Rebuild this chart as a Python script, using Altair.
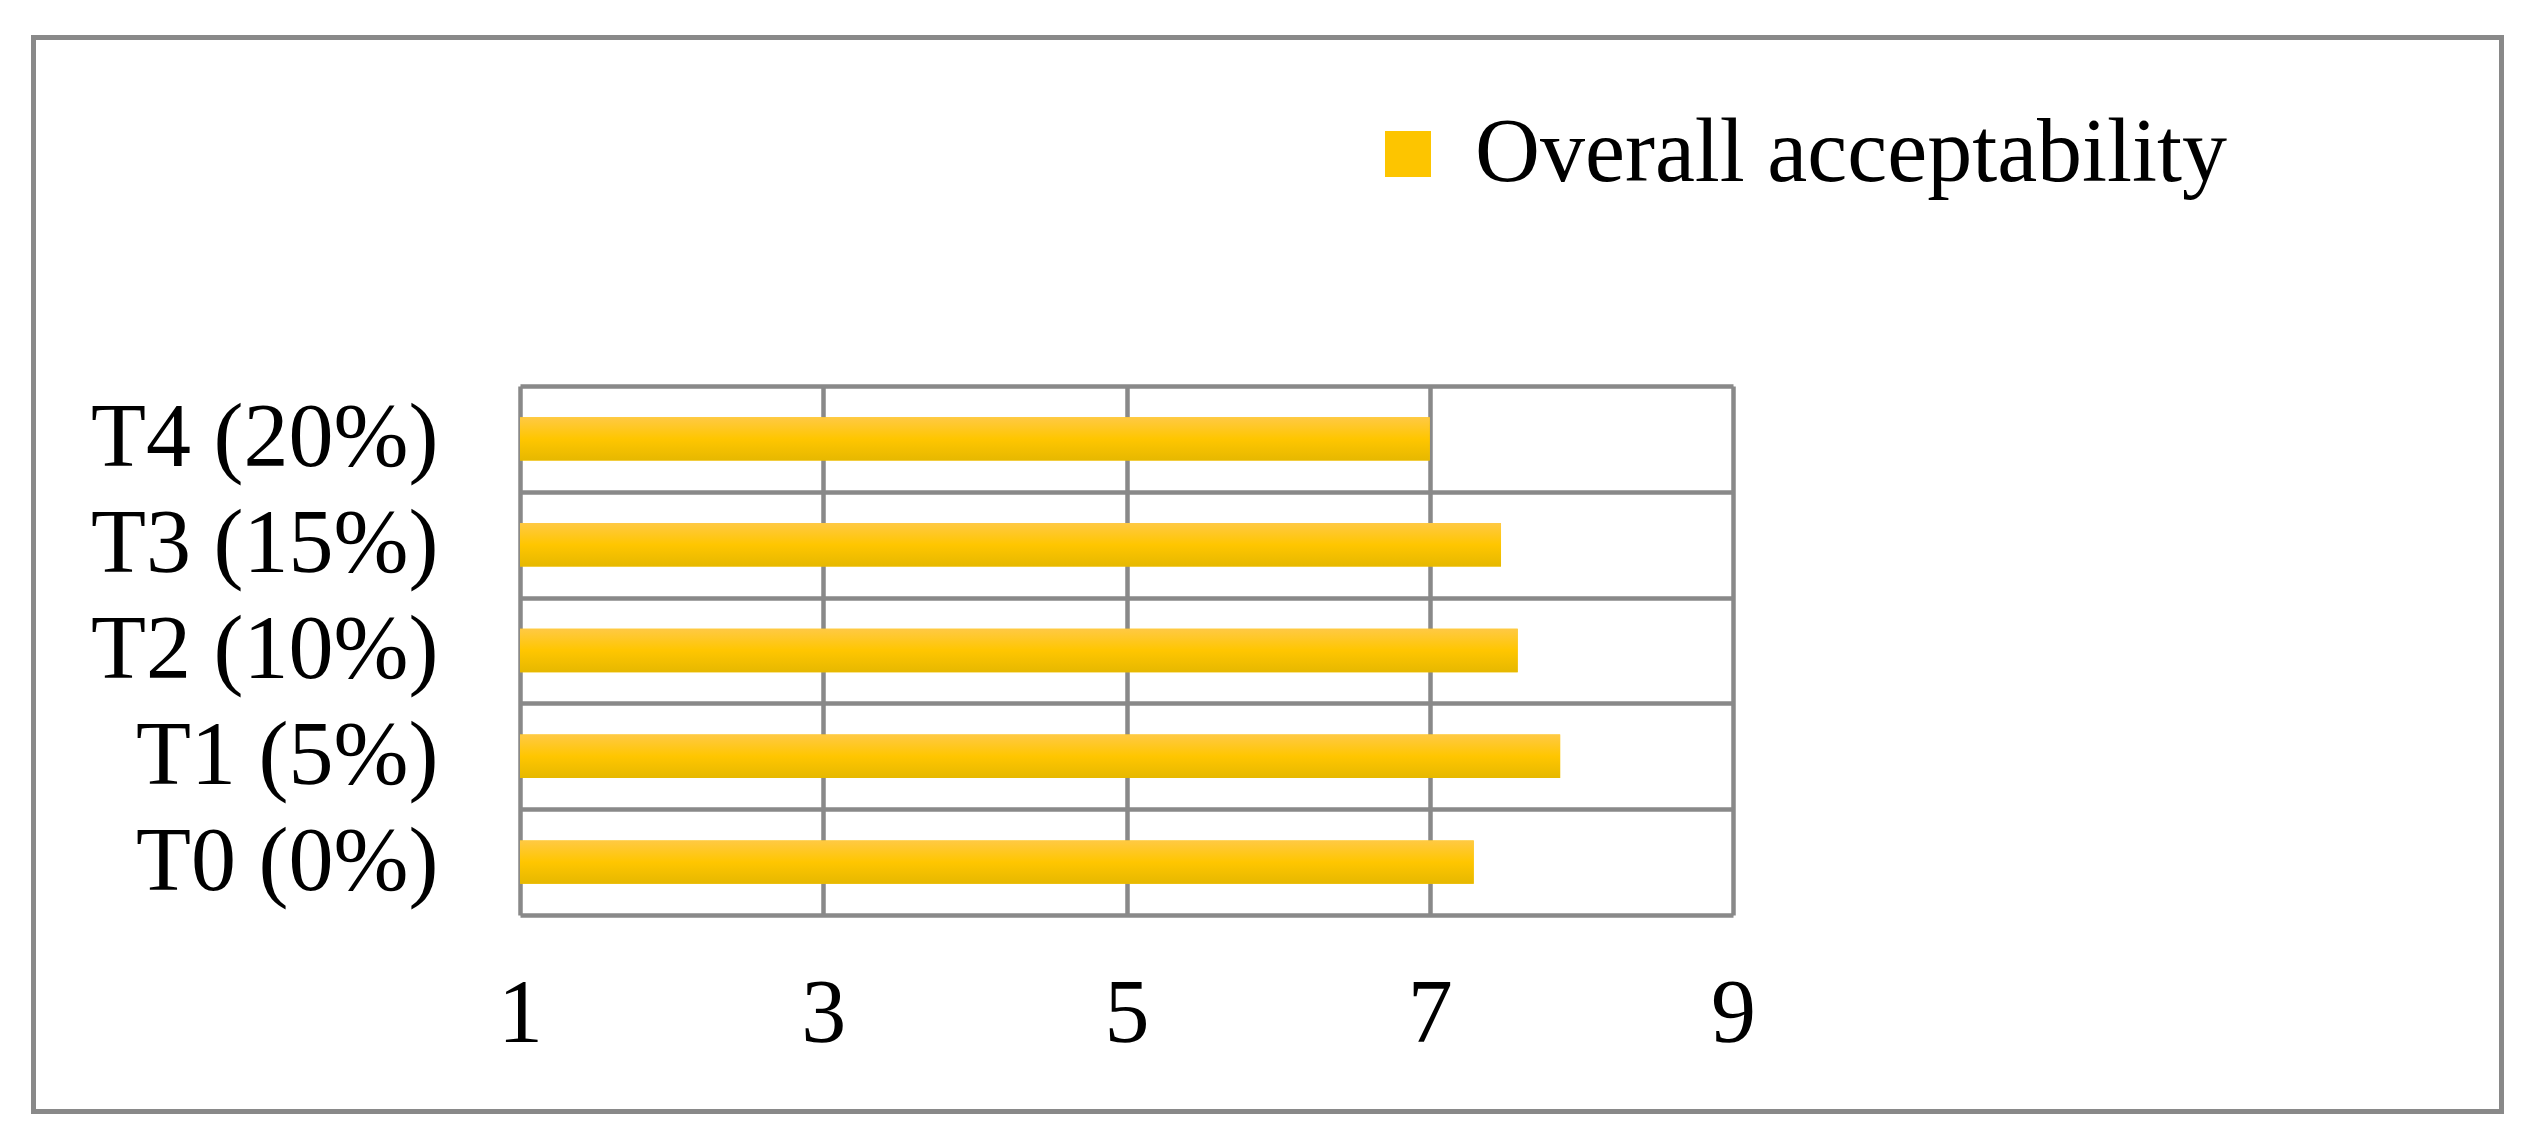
import altair as alt
import pandas as pd

categories = ["T0 (0%)", "T1 (5%)", "T2 (10%)", "T3 (15%)", "T4 (20%)"]
values = [7.29, 7.86, 7.58, 7.47, 7.00]
series_name = "Overall acceptability"
x_ticks = [1, 3, 5, 7, 9]

df = pd.DataFrame({"cat": categories, "value": values, "series": [series_name] * len(categories)})

FONT = "Liberation Serif"
GRID = "#898989"
order = list(reversed(categories))

grad = alt.Gradient(
    gradient="linear",
    stops=[
        alt.GradientStop(color="#FFC944", offset=0),
        alt.GradientStop(color="#FFC600", offset=0.5),
        alt.GradientStop(color="#E6B800", offset=1),
    ],
    x1=0, x2=0, y1=0, y2=1,
)

y_enc = alt.Y(
    "cat:N", sort=order, title=None,
    scale=alt.Scale(paddingInner=0, paddingOuter=0),
    axis=alt.Axis(grid=True, tickBand="extent", ticks=False, tickSize=0, domain=False,
                  labelPadding=82, labelFont=FONT, labelFontSize=90, labelColor="black",
                  gridColor=GRID, gridWidth=4.5, labelLimit=0),
)
x_enc = alt.X(
    "value:Q", title=None,
    scale=alt.Scale(domain=[1, 9], zero=False, nice=False),
    axis=alt.Axis(values=x_ticks, grid=True, ticks=False, tickSize=0, domain=False,
                  labelPadding=55, labelFont=FONT, labelFontSize=90, labelColor="black",
                  gridColor=GRID, gridWidth=4.5, labelFlush=False, format="d"),
)

base = alt.Chart(df)

legend_bars = base.mark_bar(height={"band": 0.41}).encode(
    y=y_enc, x=x_enc, x2=alt.X2(datum=1),
    color=alt.Color("series:N", scale=alt.Scale(range=["#FDC500"]),
                    legend=alt.Legend(orient="none", legendX=843, legendY=-277, title=None,
                                      symbolType="square", symbolSize=2116, symbolStrokeWidth=0,
                                      labelFont=FONT, labelFontSize=90, labelColor="black",
                                      labelOffset=22, padding=0, labelLimit=0)),
)

grad_bars = base.mark_bar(height={"band": 0.41}, color=grad).encode(
    y=y_enc, x=x_enc, x2=alt.X2(datum=1),
)

frame = alt.Chart(alt.Data(values=[{}])).mark_rect(
    fill="transparent", stroke=GRID, strokeWidth=5
).encode(
    x=alt.value(-486.5), x2=alt.value(1981.5), y=alt.value(-348.5), y2=alt.value(725.5)
)

chart = alt.layer(frame, legend_bars, grad_bars).properties(
    width=1213, height=529,
    padding={"left": 23, "top": 27, "right": 0, "bottom": 0},
).configure_view(stroke=GRID, strokeWidth=4.5).configure(background="white")

chart.save("out.html", embed_options={"renderer": "svg", "actions": False})
